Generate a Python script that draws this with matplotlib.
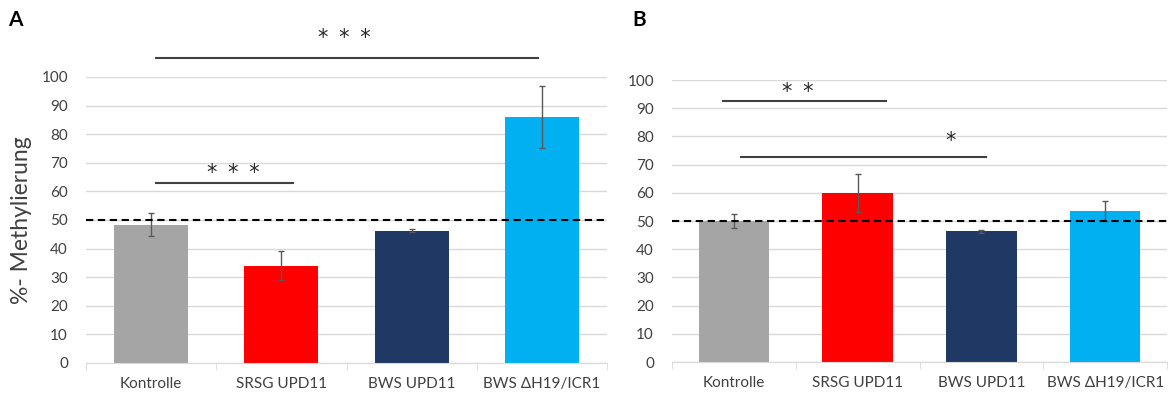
import matplotlib
matplotlib.use("Agg")
import matplotlib.pyplot as plt
import numpy as np

plt.rcParams["font.family"] = ["Lato", "DejaVu Sans"]

CATEGORIES = ["Kontrolle", "SRSG UPD11", "BWS UPD11", "BWS \u0394H19/ICR1"]
COLORS = ["#A5A5A5", "#FF0000", "#203864", "#00B0F0"]

A_VALUES = [48.3, 34.0, 46.2, 86.0]
A_ERRORS = [4.0, 5.0, 0.5, 10.8]
B_VALUES = [50.0, 60.0, 46.4, 53.5]
B_ERRORS = [2.4, 6.8, 0.5, 3.5]

# significance bars: (x_start, x_end, y_line, text, x_text, y_text)
A_SIG = [(0.04, 2.97, 106.6, "* \u2009* \u2009*", 1.48, 113.5),
         (0.04, 1.09, 62.9, "* \u2009* \u2009*", 0.63, 66.3)]
B_SIG = [(-0.09, 1.23, 92.4, "* \u2009*", 0.52, 95.8),
         (0.06, 2.04, 72.6, "*", 1.75, 78.5)]

REF_LINE = 50


def draw_panel(ax, values, errors, sigs):
    x = np.arange(len(CATEGORIES))
    ax.set_axisbelow(True)
    ax.yaxis.grid(True, color="#D9D9D9", linewidth=1.0)
    ax.bar(x, values, width=0.57, color=COLORS, zorder=2)
    ax.errorbar(x, values, yerr=errors, fmt="none", ecolor="#595959",
                elinewidth=1.0, capsize=2.5, capthick=1.0, zorder=3)
    ax.axhline(REF_LINE, color="black", linestyle=(0, (3.5, 2.2)),
               linewidth=1.5, zorder=4, clip_on=False)
    ax.set_xlim(-0.5, 3.5)
    ax.set_ylim(0, 100)
    ax.set_yticks(np.arange(0, 101, 10))
    ax.set_xticks(x)
    ax.set_xticklabels(CATEGORIES, fontsize=11, color="#404040")
    ax.set_xticks(np.arange(-0.5, 3.6, 1.0), minor=True)
    ax.tick_params(axis="x", which="major", length=0, pad=10)
    ax.tick_params(axis="x", which="minor", length=5, color="#D9D9D9",
                   direction="out")
    ax.tick_params(axis="y", length=0, labelsize=11, labelcolor="#404040",
                   pad=13)
    for s in ("top", "right", "left"):
        ax.spines[s].set_visible(False)
    ax.spines["bottom"].set_color("#D9D9D9")
    for x0, x1, yl, txt, xt, yt in sigs:
        ax.plot([x0, x1], [yl, yl], color="#404040", linewidth=1.5,
                clip_on=False, zorder=5)
        ax.text(xt, yt, txt, ha="center", va="center", fontsize=15,
                family="DejaVu Sans", color="#262626", clip_on=False)


fig = plt.figure(figsize=(11.73, 3.94), dpi=100)
ax_a = fig.add_axes([0.0733, 0.0787, 0.4442, 0.7259])
ax_b = fig.add_axes([0.5729, 0.0812, 0.4220, 0.7157])

draw_panel(ax_a, A_VALUES, A_ERRORS, A_SIG)
draw_panel(ax_b, B_VALUES, B_ERRORS, B_SIG)

ax_a.set_ylabel("%- Methylierung", fontsize=16.5, color="#404040", labelpad=7)

fig.text(0.007, 0.95, "A", fontsize=15, fontweight="bold", va="center")
fig.text(0.539, 0.95, "B", fontsize=15, fontweight="bold", va="center")

fig.savefig("out.png", dpi=100)
